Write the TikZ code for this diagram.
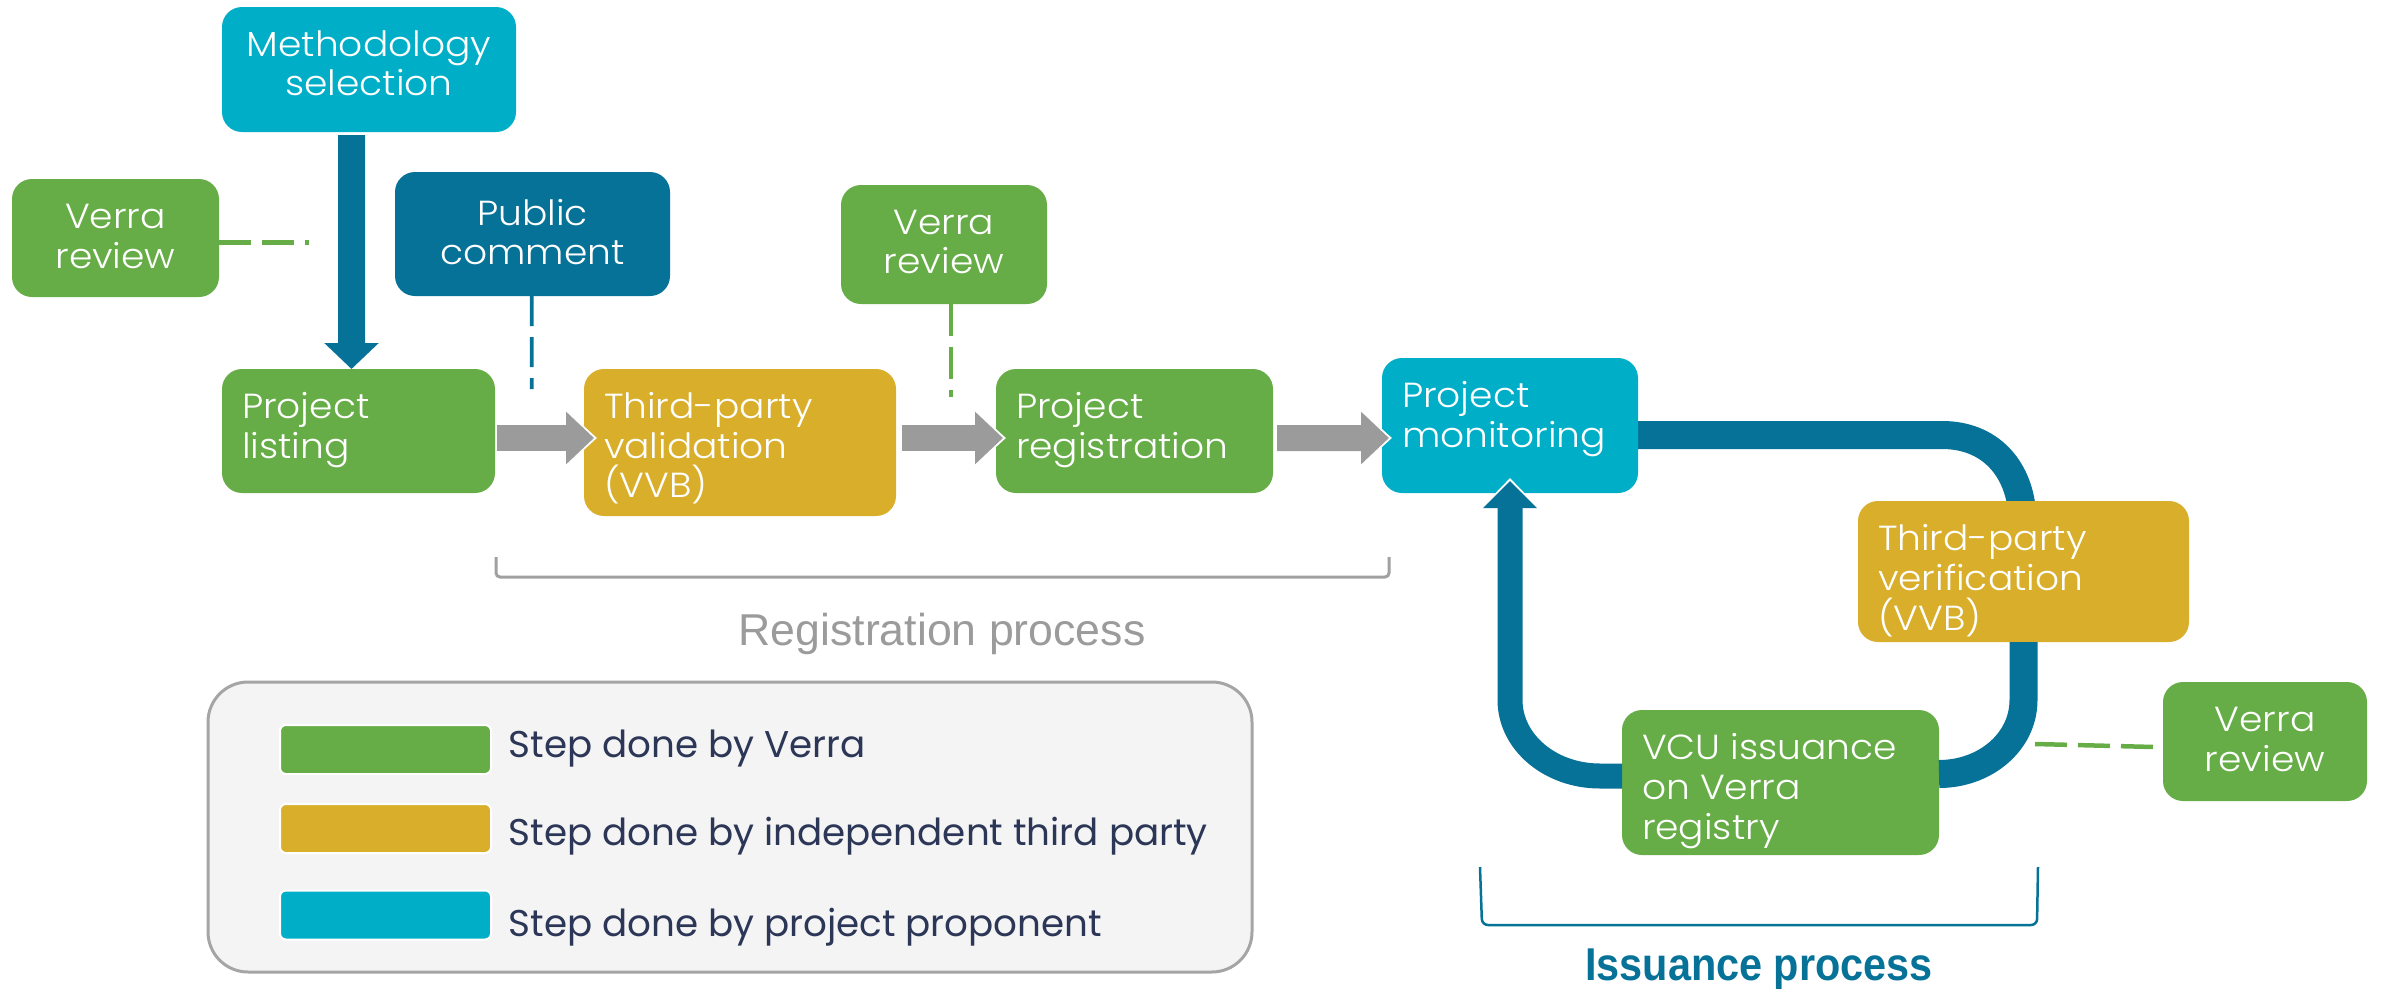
\documentclass[tikz,border=0pt]{standalone}
\usepackage{fontspec}
\setmainfont{Poppins}
\IfFontExistsTF{Poppins Light}
  {\newfontfamily\boxfont[FakeStretch=1.08]{Poppins Light}}
  {\newfontfamily\boxfont[FakeStretch=1.08]{Poppins}}
\newfontfamily\regfont{Liberation Sans}
\newfontfamily\issfont[FakeStretch=0.9]{Liberation Sans}
\usetikzlibrary{arrows.meta,calc,backgrounds}
\definecolor{vgreen}{RGB}{103,173,71}
\definecolor{vgold}{RGB}{217,174,43}
\definecolor{vcyan}{RGB}{0,174,199}
\definecolor{vblue}{RGB}{7,114,152}
\definecolor{vgray}{RGB}{155,155,155}
\definecolor{vnavy}{RGB}{44,54,86}
\definecolor{lgfill}{RGB}{244,244,244}
\definecolor{lgdraw}{RGB}{165,165,165}
\definecolor{brgray}{RGB}{160,160,160}
\newcommand\lbox[3]{\parbox[c][#2][t]{#1}{\raggedright\leftskip=2mm\relax\rule{0pt}{4.9mm}#3}}
\newcommand\cbox[4][4.9mm]{\parbox[c][#3][t]{#2}{\centering\rule{0pt}{#1}#4}}
\tikzset{
  stepbox/.style={rounded corners=2mm, inner sep=0pt, outer sep=0pt, text=white,
    font=\boxfont\fontsize{9.9pt}{11.38pt}\selectfont},
  swatch/.style={draw=white, line width=0.2mm, rounded corners=0.6mm,
    minimum width=21.1mm, minimum height=4.9mm, inner sep=0pt},
  legtext/.style={anchor=base west, inner sep=0pt, text=vnavy,
    font=\fontsize{10.6pt}{12pt}\selectfont},
  dashgreen/.style={draw=vgreen, line width=0.45mm, dash pattern=on 3.2mm off 1.1mm},
  dashblue/.style={draw=vblue, line width=0.38mm, dash pattern=on 3.0mm off 1.1mm},
  garrow/.style={draw=vgray, line width=2.6mm, -{Triangle[width=5.1mm,length=2.8mm]}},
  garrowbg/.style={draw=white, line width=2.6mm, -{Triangle[width=5.8mm,length=3.3mm]}},
  loopline/.style={draw=vblue, line width=2.8mm},
  bluearrow/.style={draw=vblue, line width=2.5mm, -{Triangle[width=5.2mm,length=2.7mm]}},
  bluearrowbg/.style={draw=white, line width=2.5mm, -{Triangle[width=6.0mm,length=3.2mm]}},
}
\begin{document}
\begin{tikzpicture}[x=0.1mm,y=-0.1mm]
\useasboundingbox (0,0) rectangle (2387,989);

% legend
\node[draw=lgdraw, fill=lgfill, line width=0.3mm, rounded corners=4mm,
  minimum width=104.4mm, minimum height=29mm, inner sep=0pt] (legend) at (730,827) {};
\node[swatch, fill=vgreen] (sw1) at (385.5,749.5) {};
\node[swatch, fill=vgold]  (sw2) at (385.5,828.5) {};
\node[swatch, fill=vcyan]  (sw3) at (385.5,915) {};
\node[legtext] (lt1) at (508,757) {Step done by Verra};
\node[legtext] (lt2) at (508,845) {Step done by independent third party};
\node[legtext] (lt3) at (508,936) {Step done by project proponent};

% step boxes
\node[stepbox, fill=vcyan]  (meth) at (369,69.5)   {\cbox{29.4mm}{12.5mm}{Methodology\\selection}};
\node[stepbox, fill=vgreen] (vr1)  at (115.5,238)  {\cbox{20.7mm}{11.8mm}{Verra\\review}};
\node[stepbox, fill=vblue]  (pub)  at (532.5,234)  {\cbox[5.3mm]{27.5mm}{12.4mm}{Public\\comment}};
\node[stepbox, fill=vgreen] (list) at (358.5,431)  {\lbox{27.3mm}{12.4mm}{Project\\listing}};
\node[stepbox, fill=vgold]  (val)  at (740,442.5)  {\lbox{31.2mm}{14.7mm}{Third-party\\validation\\(VVB)}};
\node[stepbox, fill=vgreen] (vr2)  at (944,244.5)  {\cbox{20.6mm}{11.9mm}{Verra\\review}};
\node[stepbox, fill=vgreen] (reg)  at (1134.5,431) {\lbox{27.7mm}{12.4mm}{Project\\registration}};
\node[stepbox, fill=vcyan]  (mon)  at (1510,425.5) {\lbox{25.6mm}{13.5mm}{Project\\monitoring}};
\node[stepbox, fill=vgold]  (ver)  at (2023.5,571.5) {\lbox{33.1mm}{14.1mm}{Third-party\\verification\\(VVB)}};
\node[stepbox, fill=vgreen] (vcu)  at (1780.5,782.5) {\lbox{31.7mm}{14.5mm}{VCU issuance\\on Verra\\registry}};
\node[stepbox, fill=vgreen] (vr3)  at (2265,741.5) {\cbox{20.4mm}{11.9mm}{Verra\\review}};

% free ends of dashed links
\coordinate (d1) at (309,242.6);
\coordinate (d2) at (531.7,389);
\coordinate (d3) at (951,397);
\coordinate (d4) at (2035,744);

% dashed links
\draw[dashgreen] ($(vr1.east)+(0,4.6)$) -- (d1);
\draw[dashblue]  ($(pub.south)+(-0.8,0)$) -- (d2);
\draw[dashgreen] ($(vr2.south)+(7,0)$) -- (d3);
\draw[dashgreen] (d4) -- ($(vr3.west)+(-9,5.5)$);

% methodology arrow
\draw[draw=vblue, line width=2.7mm, -{Triangle[width=5.3mm,length=2.6mm]}]
  ($(meth.south)+(-17.5,3)$) -- ($(list.north)+(-7,0)$);

% gray process arrows
\draw[garrowbg] ($(list.east)+(2,7)$) -- ($(val.west)+(13,-4.5)$);
\draw[garrow]   ($(list.east)+(2,7)$) -- ($(val.west)+(10,-4.5)$);
\draw[garrowbg] ($(val.east)+(6,-4.5)$) -- ($(reg.west)+(10,7)$);
\draw[garrow]   ($(val.east)+(6,-4.5)$) -- ($(reg.west)+(7,7)$);
\draw[garrowbg] ($(reg.east)+(4,7)$) -- ($(mon.west)+(10,12.5)$);
\draw[garrow]   ($(reg.east)+(4,7)$) -- ($(mon.west)+(7,12.5)$);

% issuance loop
\begin{scope}[on background layer]
\draw[loopline] ($(mon.east)+(-8,9.5)$) -- (1942,435)
  .. controls (1990,435) and (2018,468) .. ($(ver.north)+(-1.5,10)$);
\end{scope}
\draw[loopline] (ver.south) -- (2023.5,700)
  .. controls (2023.5,742) and (1985,774) .. ($(vcu.east)+(0,-8.5)$);
\draw[bluearrowbg] (1510,600) -- ($(mon.south)+(0,-15)$);
\draw[bluearrow] ($(vcu.west)+(0,-6.5)$) -- (1600,776)
  .. controls (1550,776) and (1510,742) .. (1510,700) -- ($(mon.south)+(0,-12)$);

% brackets and labels
\draw[draw=brgray, line width=0.3mm, rounded corners=0.4mm]
  (496,557) -- (496,577) -- (1389,577) -- (1389,557);
\node[anchor=base, inner sep=0pt, text=vgray, font=\regfont\fontsize{12.7pt}{15pt}\selectfont]
  (reglab) at (942,645) {Registration process};
\draw[draw=vblue, line width=0.25mm, rounded corners=0.6mm]
  (1480,867) -- (1482,925) -- (2037,925) -- (2038,867);
\node[anchor=base, inner sep=0pt, text=vblue, font=\issfont\bfseries\fontsize{13.1pt}{15pt}\selectfont]
  (isslab) at (1759,980) {Issuance process};
\end{tikzpicture}
\end{document}
